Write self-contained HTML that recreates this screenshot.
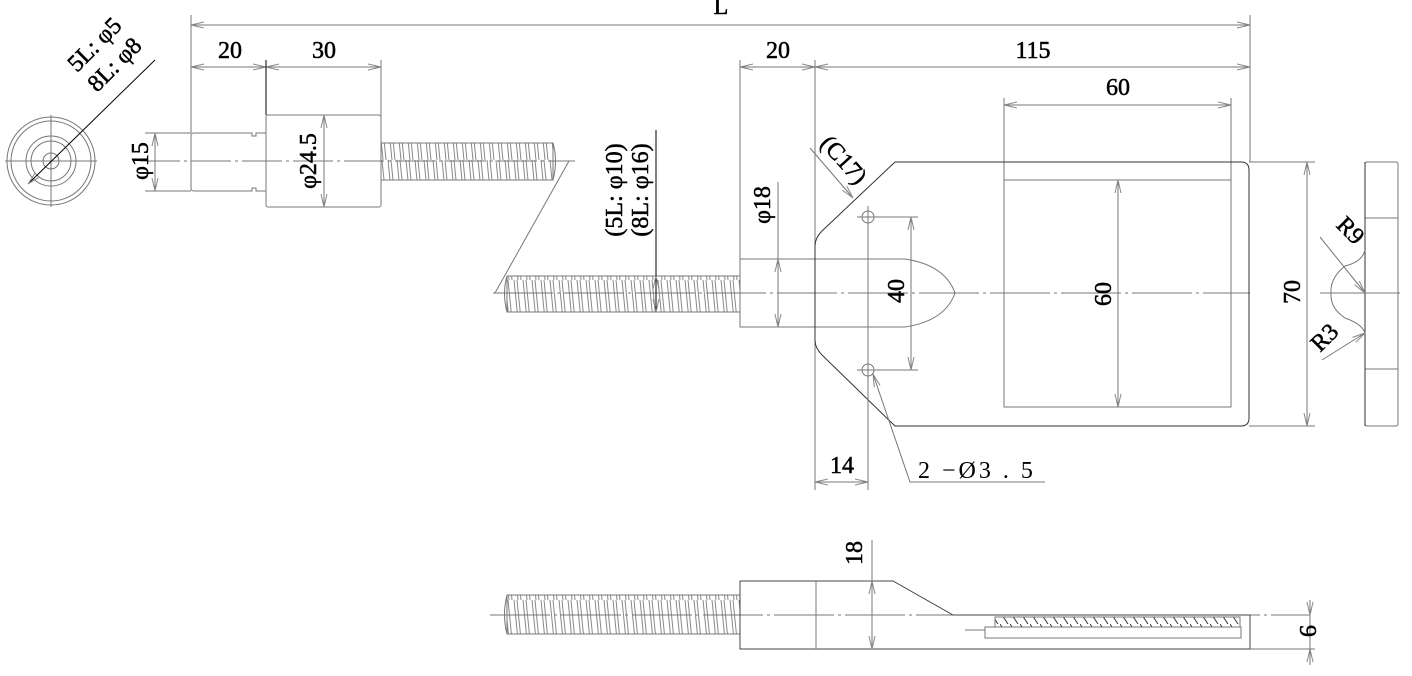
<!DOCTYPE html>
<html><head><meta charset="utf-8"><style>
html,body{margin:0;padding:0;background:#fff;}
svg{display:block}
text{font-family:"Liberation Serif","Noto Serif CJK SC",serif;fill:#000;}
</style></head><body>
<svg width="1412" height="676" viewBox="0 0 1412 676" xmlns="http://www.w3.org/2000/svg">
<defs>
<marker id="a" markerWidth="14" markerHeight="8" refX="13" refY="4" orient="auto-start-reverse" markerUnits="userSpaceOnUse">
<path d="M0,1 L13,4 L0,7" fill="none" stroke="#888" stroke-width="1"/>
</marker>
<pattern id="thr" width="9" height="40" patternUnits="userSpaceOnUse">
<path d="M1,0 L5,40 M4,0 L8,40" stroke="#888" stroke-width="1" fill="none"/>
</pattern>
<pattern id="hat" width="10" height="12" patternUnits="userSpaceOnUse">
<path d="M0,0 L8,12" stroke="#333" stroke-width="1"/>
</pattern>
</defs>
<g fill="none" stroke="#777" stroke-width="1">
<circle cx="51" cy="161" r="44"/>
<circle cx="51" cy="161" r="40"/>
<circle cx="51" cy="161" r="25"/>
<circle cx="51" cy="161" r="20"/>
<circle cx="51" cy="161" r="8"/>
<line x1="5" y1="161" x2="97" y2="161"/>
<line x1="51" y1="115" x2="51" y2="207"/>
<line x1="28" y1="184" x2="155" y2="60" stroke="#000" marker-start="url(#a)"/>
<line x1="191" y1="25" x2="1250" y2="25" marker-start="url(#a)" marker-end="url(#a)"/>
<line x1="191" y1="15" x2="191" y2="133"/>
<line x1="1250" y1="15" x2="1250" y2="162"/>
<line x1="191" y1="67" x2="266" y2="67" marker-start="url(#a)" marker-end="url(#a)"/>
<line x1="266" y1="67" x2="381" y2="67" marker-start="url(#a)" marker-end="url(#a)"/>
<line x1="266" y1="60" x2="266" y2="115" stroke="#000"/>
<line x1="381" y1="60" x2="381" y2="143"/>
<line x1="740" y1="67" x2="815" y2="67" marker-start="url(#a)" marker-end="url(#a)"/>
<line x1="815" y1="67" x2="1250" y2="67" marker-start="url(#a)" marker-end="url(#a)"/>
<line x1="740" y1="60" x2="740" y2="259"/>
<line x1="815" y1="60" x2="815" y2="490"/>
<line x1="1004" y1="105" x2="1231" y2="105" marker-start="url(#a)" marker-end="url(#a)"/>
<line x1="1004" y1="98" x2="1004" y2="180"/>
<line x1="1231" y1="98" x2="1231" y2="180"/>
<path d="M191,136 Q191,133 194,133 L252,133 L252,136 L256,136 L256,133 L266,133 L266,191 L256,191 L256,188 L252,188 L252,191 L194,191 Q191,191 191,188 Z"/>
<rect x="266" y="115" width="115" height="92" rx="2"/>
<rect x="381" y="143" width="172" height="37" fill="url(#thr)"/>
<path d="M553,143 Q558,161 553,180"/>
<line x1="140" y1="161" x2="575" y2="161" stroke-dasharray="40,4,3,4"/>
<line x1="145" y1="133" x2="191" y2="133"/>
<line x1="145" y1="191" x2="191" y2="191"/>
<line x1="155" y1="133" x2="155" y2="191" marker-start="url(#a)" marker-end="url(#a)"/>
<line x1="324" y1="115" x2="324" y2="207" marker-start="url(#a)" marker-end="url(#a)"/>
<line x1="569" y1="161" x2="495" y2="293"/>
<rect x="507" y="276" width="233" height="36" fill="url(#thr)"/>
<path d="M507,276 Q502,293 507,312"/>
<line x1="493" y1="293" x2="1250" y2="293" stroke-dasharray="60,4,3,4"/>
<line x1="656" y1="130" x2="656" y2="276" stroke="#000"/>
<line x1="656" y1="276" x2="656" y2="312" stroke="#000" marker-start="url(#a)" marker-end="url(#a)"/>
<path d="M740,259 L905,259 Q945,265 955,293 Q945,321 905,327 L740,327 Z"/>
<line x1="778" y1="182" x2="778" y2="259"/>
<line x1="778" y1="259" x2="778" y2="327" marker-start="url(#a)" marker-end="url(#a)"/>
<path d="M895,162 L1241,162 Q1249,162 1249,170 L1249,418 Q1249,426 1241,426 L895,426 L822,355 Q815,348 815,340 L815,246 Q815,238 822,231 Z" stroke="#333"/>
<rect x="1004" y="180" width="227" height="227"/>
<line x1="1118" y1="180" x2="1118" y2="407" marker-start="url(#a)" marker-end="url(#a)"/>
<circle cx="868" cy="217" r="6"/><circle cx="868" cy="370" r="6"/>
<line x1="857" y1="217" x2="918" y2="217"/>
<line x1="857" y1="370" x2="918" y2="370"/>
<line x1="868" y1="206" x2="868" y2="490"/>
<line x1="911" y1="217" x2="911" y2="370" marker-start="url(#a)" marker-end="url(#a)"/>
<line x1="810" y1="148" x2="853" y2="198" marker-end="url(#a)"/>
<line x1="815" y1="482" x2="868" y2="482" marker-start="url(#a)" marker-end="url(#a)"/>
<polyline points="1045,482 910,482 873,374" marker-end="url(#a)"/>
<line x1="1249" y1="162" x2="1315" y2="162"/>
<line x1="1249" y1="426" x2="1315" y2="426"/>
<line x1="1307" y1="162" x2="1307" y2="426" marker-start="url(#a)" marker-end="url(#a)"/>
<rect x="1365" y="162" width="33" height="264" rx="2"/>
<line x1="1365" y1="218" x2="1398" y2="218"/>
<line x1="1365" y1="369" x2="1398" y2="369"/>
<line x1="1365" y1="162" x2="1365" y2="426" stroke="#333"/>
<path d="M1365,250 Q1362,262 1345,266 Q1330,278 1331,293 Q1330,308 1345,318 Q1362,324 1365,333"/>
<line x1="1320" y1="293" x2="1400" y2="293"/>
<line x1="1320" y1="237" x2="1365" y2="293" marker-end="url(#a)"/>
<line x1="1322" y1="360" x2="1365" y2="333" marker-end="url(#a)"/>
<rect x="507" y="595" width="233" height="39" fill="url(#thr)"/>
<path d="M507,595 Q502,615 507,634"/>
<line x1="490" y1="615" x2="1310" y2="615" stroke-dasharray="60,4,3,4"/>
<path d="M740,581 L893,581 L953,615 L1250,615 L1250,649 L740,649 Z" stroke="#444"/>
<line x1="816" y1="581" x2="816" y2="649"/>
<rect x="995" y="617" width="245" height="10" fill="url(#hat)"/>
<rect x="985" y="627" width="256" height="11"/>
<line x1="965" y1="630" x2="985" y2="630"/>
<line x1="872" y1="540" x2="872" y2="581"/>
<line x1="872" y1="581" x2="872" y2="649" marker-start="url(#a)" marker-end="url(#a)"/>
<line x1="1250" y1="649" x2="1315" y2="649"/>
<line x1="1310" y1="600" x2="1310" y2="615" marker-end="url(#a)"/>
<line x1="1310" y1="665" x2="1310" y2="649" marker-end="url(#a)"/>
<line x1="1310" y1="615" x2="1310" y2="649"/>
</g>
<g font-size="24" text-anchor="middle" style="stroke:#000;stroke-width:0.5">
<text x="721" y="14">L</text>
<text x="230" y="58">20</text>
<text x="324" y="58">30</text>
<text x="778" y="58">20</text>
<text x="1033" y="58">115</text>
<text x="1118" y="95">60</text>
<text x="842" y="473">14</text>
<text x="918" y="478" text-anchor="start" style="stroke:none" letter-spacing="3">2 −Ø3 . 5</text>
<text transform="translate(148,161) rotate(-90)">φ15</text>
<text transform="translate(316,161) rotate(-90)">φ24.5</text>
<text transform="translate(770,205) rotate(-90)">φ18</text>
<text transform="translate(622,190) rotate(-90)">(5L: φ10)</text>
<text transform="translate(648,190) rotate(-90)">(8L: φ16)</text>
<text transform="translate(904,291) rotate(-90)">40</text>
<text transform="translate(1111,294) rotate(-90)">60</text>
<text transform="translate(1300,292) rotate(-90)">70</text>
<text transform="translate(862,553) rotate(-90)">18</text>
<text transform="translate(1300,631) rotate(90)">9</text>
<text transform="translate(100,50) rotate(-45)">5L: φ5</text>
<text transform="translate(120,70) rotate(-45)">8L: φ8</text>
<text transform="translate(838,165) rotate(48)">(C17)</text>
<text transform="translate(1345,236) rotate(45)">R9</text>
<text transform="translate(1330,343) rotate(-45)">R3</text>
</g>
</svg>
</body></html>
